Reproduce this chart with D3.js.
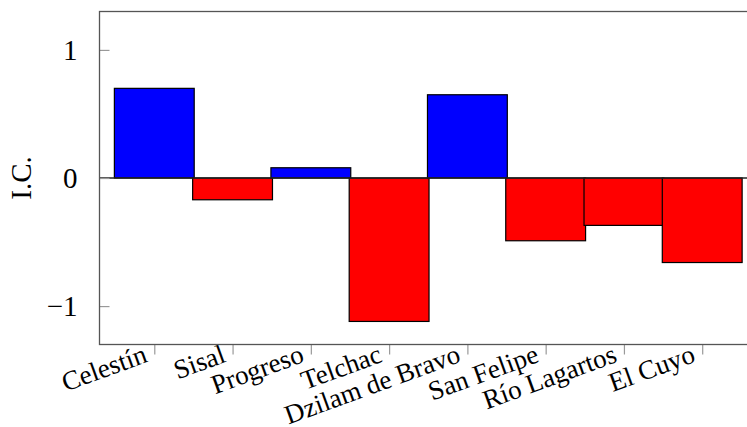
<!DOCTYPE html>
<html>
<head>
<meta charset="utf-8">
<script src="https://cdn.jsdelivr.net/npm/d3@7"></script>
<style>
  html, body { margin: 0; padding: 0; background: #fff; }
  svg { display: block; }
  text { font-family: "Liberation Serif", "DejaVu Serif", serif; fill: #000; }
</style>
</head>
<body>
<svg id="chart" width="747" height="427"></svg>
<script>
// Ports along the coast and their I.C. values
const ports = ["Celestín", "Sisal", "Progreso", "Telchac", "Dzilam de Bravo", "San Felipe", "Río Lagartos", "El Cuyo"];
const icValues = [0.70, -0.17, 0.08, -1.12, 0.65, -0.49, -0.37, -0.66];
const yTicks = [-1, 0, 1];
const yLabel = "I.C.";

const svg = d3.select("#chart");

// plot frame (right edge runs past the page edge)
const plotL = 99.5, plotR = 757, plotT = 11.5, plotB = 344.5;

const x = d3.scaleLinear().domain([-0.7, ports.length - 0.3]).range([plotL, plotR]);
const y = d3.scaleLinear().domain([-1.3, 1.3]).range([plotB, plotT]);
const halfBar = 0.51;

const fmt = d => (d < 0 ? "\u2212" : "") + Math.abs(d);

// bars
svg.append("g")
  .selectAll("rect")
  .data(icValues)
  .join("rect")
  .attr("x", (d, i) => x(i - halfBar))
  .attr("width", (d, i) => x(i + halfBar) - x(i - halfBar))
  .attr("y", d => y(Math.max(0, d)))
  .attr("height", d => Math.abs(y(d) - y(0)))
  .attr("fill", d => d >= 0 ? "#0000ff" : "#ff0000")
  .attr("stroke", "#000")
  .attr("stroke-width", 1.2);

// zero line
svg.append("line")
  .attr("x1", plotL).attr("x2", plotR)
  .attr("y1", y(0)).attr("y2", y(0))
  .attr("stroke", "#222").attr("stroke-width", 1.3);

// y axis: inward ticks, labels on the left
const yAxis = d3.axisLeft(y).tickValues(yTicks).tickSize(-10).tickPadding(22).tickFormat(fmt);
const gy = svg.append("g").attr("transform", `translate(${plotL},0)`).call(yAxis);
gy.select(".domain").remove();
gy.selectAll(".tick line").attr("stroke", "#999").attr("stroke-width", 1.2);
gy.selectAll(".tick text")
  .attr("font-size", 29)
  .attr("font-family", "Liberation Serif, serif")
  .attr("dy", "0.34em");

// x axis: outward ticks at bar centres, rotated labels
const xAxis = d3.axisBottom(x).tickValues(d3.range(ports.length)).tickSize(10).tickFormat(i => ports[i]);
const gx = svg.append("g").attr("transform", `translate(0,${plotB})`).call(xAxis);
gx.select(".domain").remove();
gx.selectAll(".tick line").attr("stroke", "#999").attr("stroke-width", 1.2);
gx.selectAll(".tick text")
  .attr("font-size", 27)
  .attr("font-family", "Liberation Serif, serif")
  .attr("text-anchor", "end")
  .attr("y", 0).attr("dy", 0)
  .attr("transform", "translate(-6,17) rotate(-20)");

// frame
svg.append("rect")
  .attr("x", plotL).attr("y", plotT)
  .attr("width", plotR - plotL).attr("height", plotB - plotT)
  .attr("fill", "none").attr("stroke", "#555").attr("stroke-width", 1.3);

// y axis title
svg.append("text")
  .attr("transform", `translate(31,${(plotT + plotB) / 2}) rotate(-90)`)
  .attr("text-anchor", "middle")
  .attr("font-size", 29)
  .text(yLabel);
</script>
</body>
</html>
